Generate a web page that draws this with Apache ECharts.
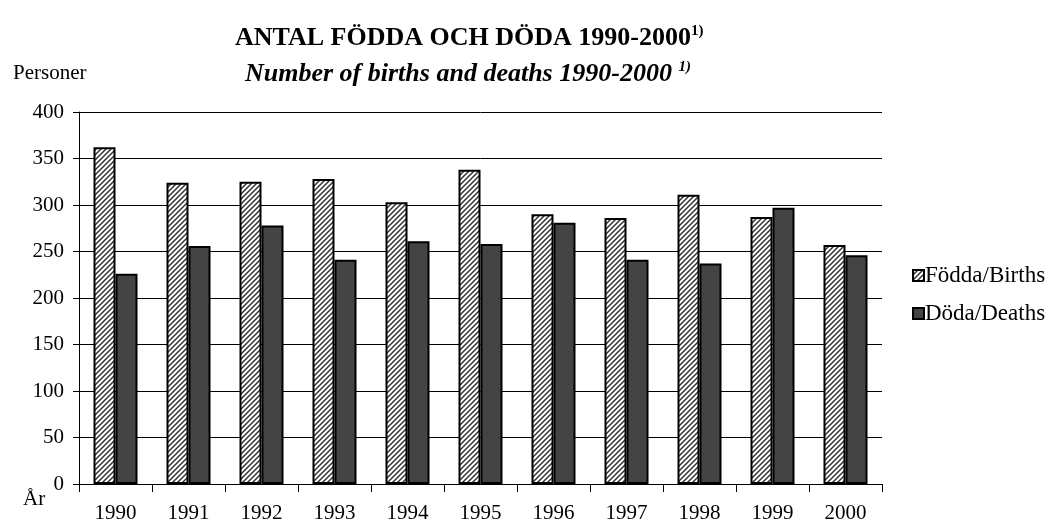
<!DOCTYPE html>
<html>
<head>
<meta charset="utf-8">
<script src="https://cdn.jsdelivr.net/npm/echarts@6/dist/echarts.min.js"></script>
<style>
  html, body { margin: 0; padding: 0; background: #fff; }
  #main { width: 1048px; height: 525px; }
</style>
</head>
<body>
<div id="main"></div>
<script>
// år
var years = ['1990','1991','1992','1993','1994','1995','1996','1997','1998','1999','2000'];
// födda
var births = [362, 324, 325, 328, 303, 338, 290, 286, 311, 287, 257];
// döda
var deaths = [226, 256, 278, 241, 261, 258, 281, 241, 237, 297, 246];
var yTicks = [0, 50, 100, 150, 200, 250, 300, 350, 400];

var font = '"Liberation Serif", "Times New Roman", serif';

// randigt mönster för födda
function hatch(){
    var c = document.createElement('canvas');
    c.width = 5; c.height = 5;
    var ctx = c.getContext('2d');
    ctx.fillStyle = '#fff';
    ctx.fillRect(0, 0, 5, 5);
    ctx.strokeStyle = '#333';
    ctx.lineWidth = 1.5;
    ctx.beginPath();
    ctx.moveTo(-1, 6); ctx.lineTo(6, -1);
    ctx.moveTo(-4, 4); ctx.lineTo(4, -4);
    ctx.moveTo(1, 9); ctx.lineTo(9, 1);
    ctx.stroke();
    return { image: c, repeat: 'repeat' };
}

var myChart = echarts.init(document.getElementById('main'));
var option = {
    animation: false,
    backgroundColor: '#fff',
    textStyle: { fontFamily: font },
    title: [
        {
            text: '{a|ANTAL FÖDDA OCH DÖDA 1990-2000}{s|1)}',
            left: 230, top: 19,
            textStyle: {
                rich: {
                    a: { fontFamily: font, fontSize: 26, fontWeight: 'bold', color: '#000' },
                    s: { fontFamily: font, fontSize: 15, fontWeight: 'bold', color: '#000', padding: [0, 0, 14, 0] }
                }
            }
        },
        {
            text: '{a|Number of births and deaths 1990-2000 }{s|1)}',
            left: 240, top: 55,
            textStyle: {
                rich: {
                    a: { fontFamily: font, fontSize: 26, fontWeight: 'bold', fontStyle: 'italic', color: '#000' },
                    s: { fontFamily: font, fontSize: 15, fontWeight: 'bold', fontStyle: 'italic', color: '#000', padding: [0, 0, 14, 0] }
                }
            }
        },
        {
            text: 'Personer',
            left: 8, top: 58,
            textStyle: { fontFamily: font, fontSize: 21, fontWeight: 'normal', color: '#000' }
        },
        {
            text: 'År',
            left: 18, top: 484,
            textStyle: { fontFamily: font, fontSize: 21, fontWeight: 'normal', color: '#000' }
        }
    ],
    legend: {
        orient: 'vertical',
        left: 907, top: 259,
        icon: 'rect',
        itemWidth: 11, itemHeight: 11,
        itemGap: 15,
        textStyle: { fontFamily: font, fontSize: 23, color: '#000', padding: [0, 0, 0, -4] },
        data: ['Födda/Births', 'Döda/Deaths']
    },
    grid: { left: 79, right: 166, top: 112, bottom: 41 },
    xAxis: {
        type: 'category',
        data: years,
        axisLine: { lineStyle: { color: '#000', width: 1 } },
        axisTick: { show: true, length: 8, lineStyle: { color: '#000' } },
        axisLabel: { color: '#000', fontSize: 21, fontFamily: font, margin: 19 }
    },
    yAxis: {
        type: 'value',
        min: 0, max: 400, interval: 50,
        axisLine: { show: true, lineStyle: { color: '#000', width: 1 } },
        axisTick: { show: true, length: 6, lineStyle: { color: '#000' } },
        axisLabel: {
            color: '#000', fontSize: 21, fontFamily: font, margin: 15,
            formatter: function(v){ return yTicks.indexOf(v) >= 0 ? String(v) : ''; }
        },
        splitLine: { lineStyle: { color: '#000', width: 1 } }
    },
    series: [
        {
            name: 'Födda/Births',
            type: 'bar',
            data: births,
            barWidth: 22,
            barGap: '0%',
            itemStyle: { color: hatch(), borderColor: '#000', borderWidth: 2 }
        },
        {
            name: 'Döda/Deaths',
            type: 'bar',
            data: deaths,
            barWidth: 22,
            itemStyle: { color: '#444', borderColor: '#000', borderWidth: 2 }
        }
    ]
};
myChart.setOption(option);
</script>
</body>
</html>
